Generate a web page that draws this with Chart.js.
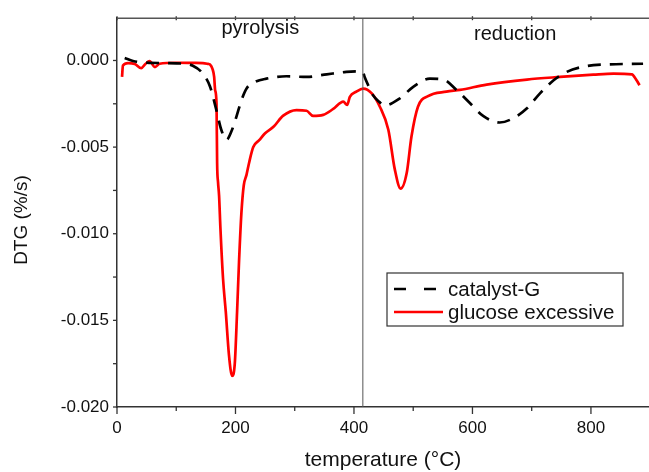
<!DOCTYPE html>
<html>
<head>
<meta charset="utf-8">
<script src="https://cdn.jsdelivr.net/npm/chart.js@4.4.1/dist/chart.umd.min.js"></script>
<style>
  html, body { margin: 0; padding: 0; background: #fff; }
  #wrap { width: 649px; height: 472px; }
</style>
</head>
<body>
<div id="wrap"><canvas id="dtg" width="649" height="472"></canvas></div>
<script>
// catalyst-G (dashed black)
const catalystTemp = [13, 27, 50, 80, 110, 128, 145, 157, 168, 176, 185, 193, 202, 210, 219, 233, 252, 286, 320, 354, 387, 410, 415, 418, 424, 432, 443, 452, 477, 500, 528, 551, 573, 596, 618, 646, 669, 692, 714, 737, 759, 793, 827, 888]
const catalystDtg = [0.00014, -0.00003, -0.00012, -0.00015, -0.00018, -0.0003, -0.00076, -0.0015, -0.0029, -0.0040, -0.00457, -0.0041, -0.0032, -0.0023, -0.0016, -0.00124, -0.00105, -0.00091, -0.00095, -0.0008, -0.00066, -0.00063, -0.00067, -0.00095, -0.00143, -0.002, -0.0024, -0.0026, -0.0022, -0.00152, -0.00105, -0.0011, -0.0017, -0.00247, -0.0032, -0.00358, -0.00333, -0.00276, -0.0019, -0.00114, -0.00066, -0.00032, -0.00023, -0.00019]

// glucose excessive (solid red)
const glucoseTemp = [8.5, 10, 18.6, 30, 41, 48, 55, 64, 72, 100, 130, 145, 154, 157, 161, 164, 165.6, 168, 169, 170.6, 172.3, 174.6, 179, 183.6, 189, 194.3, 198.8, 202.7, 206, 210, 214, 218.6, 223, 230, 240, 250, 265, 280, 303, 320, 331, 348, 365, 382, 388.5, 393, 404, 415.5, 430, 443.7, 458, 469, 478.7, 489, 497, 508, 525, 556, 579, 624, 692, 748, 804, 838, 869, 877, 882]
const glucoseDtg = [-0.00095, -0.00029, -0.00015, -0.0002, -0.00044, -0.0002, -0.00004, -0.00038, -0.00019, -0.00013, -0.00014, -0.00015, -0.0002, -0.00023, -0.00047, -0.00095, -0.0017, -0.0025, -0.0059, -0.00705, -0.0078, -0.0097, -0.0126, -0.0145, -0.0170, -0.0182, -0.0175, -0.0145, -0.0116, -0.0088, -0.0072, -0.0066, -0.0059, -0.0050, -0.0046, -0.0042, -0.0038, -0.0032, -0.00286, -0.0029, -0.0032, -0.00314, -0.0028, -0.00238, -0.00257, -0.0021, -0.0018, -0.00162, -0.0019, -0.00267, -0.004, -0.0063, -0.0074, -0.0065, -0.0044, -0.00267, -0.00206, -0.0018, -0.0017, -0.00139, -0.0011, -0.00095, -0.00082, -0.00076, -0.0008, -0.00114, -0.00143]

const xTicks = [0, 100, 200, 300, 400, 500, 600, 700, 800]
const yTicks = [0, -0.0025, -0.005, -0.0075, -0.01, -0.0125, -0.015, -0.0175, -0.02]
const splitTemp = 415
const stageNames = ["pyrolysis", "reduction"]
const stageTemps = [242, 672]

const FONT = "'Liberation Sans', Arial, sans-serif"
Chart.defaults.font.family = FONT
Chart.defaults.color = "#111"

function toPoints(xs, ys) {
  return xs.map((t, i) => ({ x: t, y: ys[i] }))
}

function line(ctx, x1, y1, x2, y2) {
  ctx.beginPath()
  ctx.moveTo(x1, y1)
  ctx.lineTo(x2, y2)
  ctx.stroke()
}

// ticks, top axis, split line, stage names, y title and legend box
const decor = {
  id: "decor",
  afterDraw(chart) {
    const { ctx, chartArea: a, scales: { x, y } } = chart
    ctx.save()
    ctx.strokeStyle = "#333"
    ctx.lineWidth = 1.3
    xTicks.forEach(v => {
      const px = x.getPixelForValue(v)
      line(ctx, px, a.bottom, px, a.bottom + (v % 200 === 0 ? 7 : 4))
      line(ctx, px, a.top - 2, px, a.top + 2)
    })
    yTicks.forEach(v => {
      const py = y.getPixelForValue(v)
      line(ctx, a.left - 4, py, a.left, py)
    })
    ctx.strokeStyle = "#555"
    ctx.lineWidth = 1.5
    line(ctx, a.left, a.top, a.right, a.top)

    const sx = x.getPixelForValue(splitTemp)
    ctx.strokeStyle = "#555"
    ctx.lineWidth = 1
    line(ctx, sx, a.top, sx, a.bottom)

    ctx.fillStyle = "#111"
    ctx.font = "20px " + FONT
    ctx.textAlign = "center"
    ctx.textBaseline = "alphabetic"
    ctx.fillText(stageNames[0], x.getPixelForValue(stageTemps[0]), 34)
    ctx.fillText(stageNames[1], x.getPixelForValue(stageTemps[1]), 40)

    ctx.save()
    ctx.font = "19px " + FONT
    ctx.translate(22, 220)
    ctx.rotate(-Math.PI / 2)
    ctx.textBaseline = "middle"
    ctx.fillText("DTG (%/s)", 0, 0)
    ctx.restore()

    // legend
    const bx = 387, by = 273, bw = 236, bh = 53
    ctx.strokeStyle = "#333"
    ctx.lineWidth = 1.2
    ctx.strokeRect(bx, by, bw, bh)
    ctx.font = "20.5px " + FONT
    ctx.textAlign = "left"
    ctx.textBaseline = "middle"
    chart.data.datasets.forEach((ds, i) => {
      const ly = by + 16 + i * 23
      ctx.strokeStyle = ds.borderColor
      ctx.lineWidth = ds.borderWidth
      ctx.setLineDash(ds.borderDash ? [12, 18] : [])
      line(ctx, bx + 7, ly, bx + 56, ly)
      ctx.setLineDash([])
      ctx.fillText(ds.label, bx + 61, ly + 1)
    })
    ctx.restore()
  }
}

new Chart(document.getElementById("dtg"), {
  type: "line",
  data: {
    datasets: [{
      label: "catalyst-G",
      data: toPoints(catalystTemp, catalystDtg),
      borderColor: "#000",
      borderWidth: 2.7,
      borderDash: [13, 9],
      cubicInterpolationMode: "monotone",
      pointRadius: 0,
      fill: false
    }, {
      label: "glucose excessive",
      data: toPoints(glucoseTemp, glucoseDtg),
      borderColor: "#ff0000",
      borderWidth: 2.7,
      cubicInterpolationMode: "monotone",
      pointRadius: 0,
      fill: false
    }]
  },
  options: {
    responsive: false,
    animation: false,
    devicePixelRatio: 1,
    layout: { padding: { top: 14, right: 0, bottom: 0, left: 0 } },
    plugins: {
      legend: { display: false },
      tooltip: { enabled: false }
    },
    scales: {
      x: {
        type: "linear",
        min: 0,
        max: 898,
        afterBuildTicks: s => { s.ticks = xTicks.map(v => ({ value: v })) },
        afterFit: s => { s.height = 65 },
        grid: { display: false, drawTicks: false },
        border: { display: true, color: "#333", width: 1.5 },
        ticks: {
          padding: 11,
          maxRotation: 0,
          autoSkip: false,
          font: { size: 17 },
          callback: v => (v % 200 === 0 ? String(v) : "")
        },
        title: {
          display: true,
          text: "temperature (°C)",
          font: { size: 21, lineHeight: 1.1 },
          padding: { top: 0, bottom: 0 },
          color: "#111"
        }
      },
      y: {
        min: -0.02,
        max: 0.00244,
        afterBuildTicks: s => { s.ticks = yTicks.map(v => ({ value: v })) },
        afterFit: s => { s.width = 117 },
        grid: { display: false, drawTicks: false },
        border: { display: true, color: "#333", width: 1.5 },
        ticks: {
          padding: 8,
          autoSkip: false,
          font: { size: 17 },
          callback: v => (Math.abs(Math.round(v * 1000) - v * 1000) < 1e-6 && Math.round(v * 1000) % 5 === 0 ? v.toFixed(3) : "")
        }
      }
    }
  },
  plugins: [decor]
})
</script>
</body>
</html>
